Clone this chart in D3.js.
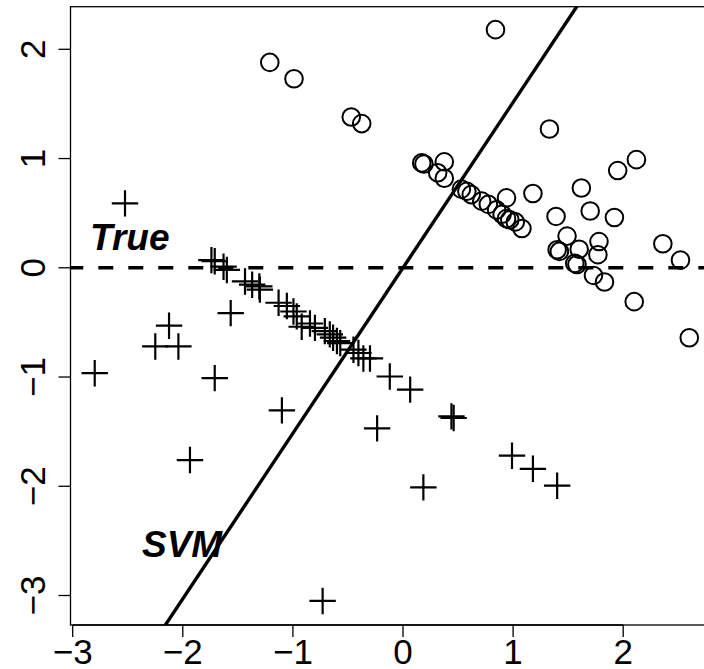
<!DOCTYPE html>
<html>
<head>
<meta charset="utf-8">
<script src="https://cdn.jsdelivr.net/npm/d3@7"></script>
<style>
  html, body { margin: 0; padding: 0; background: #fff; }
  svg { display: block; }
  text { font-family: "Liberation Sans", Arial, Helvetica, sans-serif; fill: #000; }
</style>
</head>
<body>
<div id="chart"></div>
<script>
// Class +1 observations (drawn as open circles)
const circleX = [-1.21, -0.99, -0.47, -0.375, 0.84, 0.17, 0.19, 0.375, 0.315, 0.375,
  0.53, 0.58, 0.62, 0.715, 0.775, 0.85, 0.90, 0.94, 0.97, 1.02, 1.08, 0.94, 1.18,
  1.33, 2.12, 1.95, 1.62, 1.70, 1.39, 1.92, 1.49, 1.78, 1.40, 1.42, 1.60, 1.77,
  1.56, 1.58, 2.36, 2.52, 1.73, 1.83, 2.10, 2.60];
const circleY = [1.88, 1.73, 1.38, 1.32, 2.18, 0.96, 0.95, 0.97, 0.87, 0.82,
  0.72, 0.70, 0.67, 0.61, 0.58, 0.53, 0.49, 0.45, 0.44, 0.42, 0.36, 0.64, 0.68,
  1.27, 0.99, 0.89, 0.73, 0.52, 0.47, 0.46, 0.29, 0.24, 0.165, 0.15, 0.17, 0.12,
  0.04, 0.03, 0.22, 0.07, -0.07, -0.13, -0.31, -0.64];

// Class -1 observations (drawn as plus signs)
const plusX = [-2.525, -1.74, -1.71, -1.63, -1.60, -1.435, -1.37, -1.305, -1.30,
  -1.565, -2.125, -2.25, -2.04, -2.80, -1.71, -1.935,
  -1.13, -1.055, -0.995, -0.965, -0.92, -0.845, -0.80, -0.71, -0.665, -0.635,
  -0.60, -0.57, -0.45, -0.405, -0.36, -0.30,
  -1.10, -0.12, 0.065, -0.235, 0.44, 0.46, 0.99, 1.18, 1.40, 0.185, -0.73];
const plusY = [0.59, 0.07, 0.06, 0.01, -0.02, -0.125, -0.155, -0.17, -0.20,
  -0.415, -0.53, -0.72, -0.72, -0.965, -1.01, -1.76,
  -0.32, -0.35, -0.40, -0.445, -0.54, -0.51, -0.55, -0.58, -0.61, -0.64,
  -0.67, -0.69, -0.75, -0.78, -0.83, -0.83,
  -1.305, -0.995, -1.115, -1.47, -1.36, -1.375, -1.72, -1.84, -1.995, -2.01, -3.05];

// Axis ticks
const xTicks = [-3, -2, -1, 0, 1, 2];
const yTicks = [-3, -2, -1, 0, 1, 2];

// Boundaries: true boundary y = 0, fitted SVM boundary y = slope * x + intercept
const trueIntercept = 0;
const svmSlope = 1.515;
const svmIntercept = 0;

const W = 704, H = 669;
const plot = { left: 70.5, top: 6.7, right: 724.5, bottom: 625 };

const x = d3.scaleLinear().domain([-3.02, 2.92]).range([plot.left, plot.right]);
const y = d3.scaleLinear().domain([-3.27, 2.39]).range([plot.bottom, plot.top]);

const svg = d3.select("#chart").append("svg")
  .attr("width", W).attr("height", H);

svg.append("defs").append("clipPath").attr("id", "plotclip")
  .append("rect")
  .attr("x", plot.left).attr("y", plot.top)
  .attr("width", plot.right - plot.left).attr("height", plot.bottom - plot.top);

const g = svg.append("g").attr("clip-path", "url(#plotclip)");

// True boundary (dashed)
const xs = x.domain();
g.append("line")
  .attr("x1", x(xs[0])).attr("x2", x(xs[1]))
  .attr("y1", y(trueIntercept)).attr("y2", y(trueIntercept))
  .attr("stroke", "#000").attr("stroke-width", 3.4)
  .attr("stroke-dasharray", "15,15").attr("stroke-dashoffset", 2.2);

// SVM boundary (solid)
g.append("line")
  .attr("x1", x(-4)).attr("y1", y(svmSlope * -4 + svmIntercept))
  .attr("x2", x(4)).attr("y2", y(svmSlope * 4 + svmIntercept))
  .attr("stroke", "#000").attr("stroke-width", 3.4);

// Circles
g.selectAll("circle.pos")
  .data(circleX.map((v, i) => [v, circleY[i]]))
  .join("circle")
  .attr("class", "pos")
  .attr("cx", d => x(d[0])).attr("cy", d => y(d[1]))
  .attr("r", 8.8)
  .attr("fill", "none").attr("stroke", "#000").attr("stroke-width", 2);

// Plus signs
const arm = 13.2;
g.selectAll("path.neg")
  .data(plusX.map((v, i) => [v, plusY[i]]))
  .join("path")
  .attr("class", "neg")
  .attr("d", d => {
    const cx = x(d[0]), cy = y(d[1]);
    return `M${cx - arm},${cy}H${cx + arm}M${cx},${cy - arm}V${cy + arm}`;
  })
  .attr("fill", "none").attr("stroke", "#000").attr("stroke-width", 2.2);

// Frame
svg.append("rect")
  .attr("x", plot.left).attr("y", plot.top)
  .attr("width", plot.right - plot.left).attr("height", plot.bottom - plot.top)
  .attr("fill", "none").attr("stroke", "#000").attr("stroke-width", 1.3);

// Bottom axis
const xAxis = svg.append("g");
xAxis.selectAll("line").data(xTicks).join("line")
  .attr("x1", d => x(d)).attr("x2", d => x(d))
  .attr("y1", plot.bottom).attr("y2", plot.bottom + 12)
  .attr("stroke", "#000").attr("stroke-width", 1.3);
xAxis.append("line")
  .attr("x1", x(xTicks[0])).attr("x2", x(xTicks[xTicks.length - 1]))
  .attr("y1", plot.bottom).attr("y2", plot.bottom)
  .attr("stroke", "#000").attr("stroke-width", 1.3);
xAxis.selectAll("text").data(xTicks).join("text")
  .attr("x", d => x(d)).attr("y", 664)
  .attr("text-anchor", "middle")
  .attr("font-size", 35)
  .text(d => d < 0 ? "\u2212" + Math.abs(d) : String(d));

// Left axis
const yAxis = svg.append("g");
yAxis.selectAll("line").data(yTicks).join("line")
  .attr("x1", plot.left - 12).attr("x2", plot.left)
  .attr("y1", d => y(d)).attr("y2", d => y(d))
  .attr("stroke", "#000").attr("stroke-width", 1.3);
yAxis.selectAll("text").data(yTicks).join("text")
  .attr("transform", d => `translate(45,${y(d)}) rotate(-90)`)
  .attr("text-anchor", "middle")
  .attr("font-size", 35)
  .text(d => d < 0 ? "\u2212" + Math.abs(d) : String(d));

// Line labels
svg.append("text")
  .attr("x", 90).attr("y", 250)
  .attr("font-size", 37).attr("font-weight", "bold").attr("font-style", "italic")
  .text("True");
svg.append("text")
  .attr("x", 142).attr("y", 556.5)
  .attr("font-size", 37).attr("font-weight", "bold").attr("font-style", "italic")
  .text("SVM");
</script>
</body>
</html>
